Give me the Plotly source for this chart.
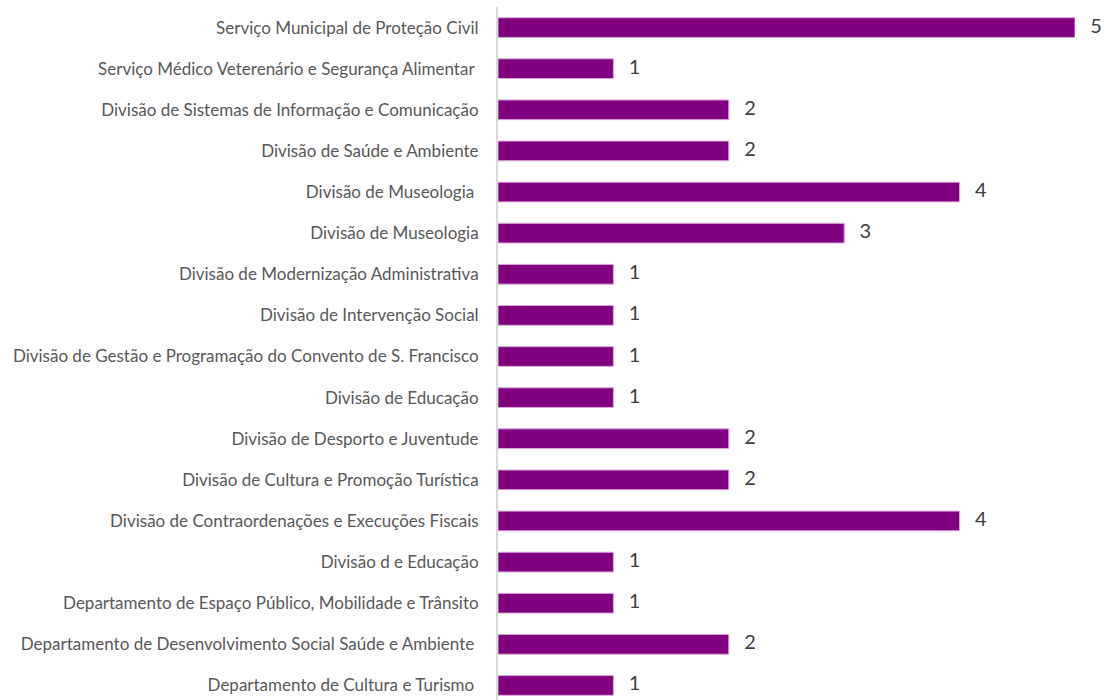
import plotly.graph_objects as go

categories = [
    "Serviço Municipal de Proteção Civil",
    "Serviço Médico Veterenário e Segurança Alimentar\u00a0",
    "Divisão de Sistemas de Informação e Comunicação",
    "Divisão de Saúde e Ambiente",
    "Divisão de Museologia\u00a0",
    "Divisão de Museologia",
    "Divisão de Modernização Administrativa",
    "Divisão de Intervenção Social",
    "Divisão de Gestão e Programação do Convento de S. Francisco",
    "Divisão de Educação",
    "Divisão de Desporto e Juventude",
    "Divisão de Cultura e Promoção Turística",
    "Divisão de Contraordenações e Execuções Fiscais",
    "Divisão d e Educação",
    "Departamento de Espaço Público, Mobilidade e Trânsito",
    "Departamento de Desenvolvimento Social Saúde e Ambiente\u00a0",
    "Departamento de Cultura e Turismo\u00a0",
]
values = [5, 1, 2, 2, 4, 3, 1, 1, 1, 1, 2, 2, 4, 1, 1, 2, 1]

fig = go.Figure()
fig.add_trace(go.Bar(
    x=values,
    y=categories,
    orientation="h",
    marker=dict(color="#800080", line=dict(color="#dcaadc", width=1)),
    width=0.48,
    hoverinfo="skip",
))
fig.add_trace(go.Scatter(
    x=values,
    y=categories,
    mode="text",
    text=[str(v) for v in values],
    textposition="middle right",
    texttemplate="\u00a0\u00a0\u00a0%{text}",
    textfont=dict(family="Lato", size=20, color="#404040"),
    cliponaxis=False,
    hoverinfo="skip",
))

fig.update_layout(
    width=1106, height=700,
    margin=dict(l=498, r=31, t=7, b=0),
    plot_bgcolor="white", paper_bgcolor="white",
    showlegend=False,
    font=dict(family="Lato", size=17, color="#595959"),
    xaxis=dict(range=[0, 5], visible=False, fixedrange=True),
    yaxis=dict(
        categoryorder="array", categoryarray=categories,
        range=[16.354, -0.5],
        showline=True, linecolor="#d9d9d9", linewidth=2,
        ticks="", showgrid=False, zeroline=False,
        tickfont=dict(family="Lato", size=17, color="#595959"),
        ticklabelstandoff=14,
        fixedrange=True,
    ),
)

fig.write_html("out.html", config={"displayModeBar": False},
               post_script="document.body.style.margin='0';")
